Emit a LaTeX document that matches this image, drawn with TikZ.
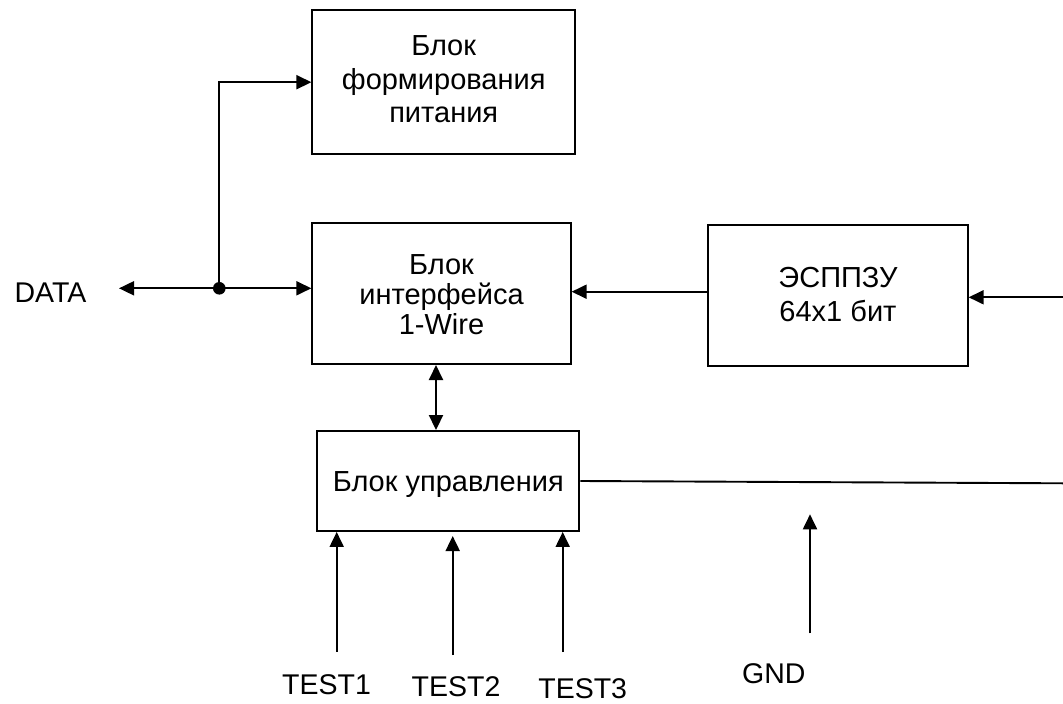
\documentclass[tikz,border=0pt]{standalone}
\usepackage{fontspec}
\setmainfont{Liberation Sans}
\usetikzlibrary{arrows.meta}
\begin{document}
\begin{tikzpicture}[x=1pt,y=-1pt,
  line width=1.9pt,
  >={Triangle[length=15pt,width=14pt]},
  blockbox/.style={draw, line width=1.9pt, inner sep=0pt, align=center},
  lbl/.style={anchor=base, inner sep=0pt, font=\fontsize{28.5}{33}\selectfont}
]
\useasboundingbox (0,0) rectangle (1063,704);

% blocks
\node[blockbox, minimum width=262.7pt, minimum height=144.3pt,
      text height=88pt, text depth=7pt,
      font=\fontsize{29}{33.5}\selectfont] (pwr) at (443.7,82.2)
      {Блок\\формирования\\питания};
\node[blockbox, minimum width=258.4pt, minimum height=140.7pt,
      text height=81pt, text depth=0pt,
      font=\fontsize{29}{30}\selectfont] (ifc) at (441.5,293.7)
      {Блок\\интерфейса\\1-Wire};
\node[blockbox, minimum width=259.4pt, minimum height=140.7pt,
      text height=55pt, text depth=3pt,
      font=\fontsize{29}{34}\selectfont] (rom) at (838,295.3)
      {ЭСППЗУ\\64x1 бит};
\node[blockbox, minimum width=262pt, minimum height=100pt,
      text height=21pt, text depth=0pt,
      font=\fontsize{29}{33}\selectfont] (ctl) at (448.3,481)
      {Блок управления};

% labels
\node[lbl] (data) at (50.5,302.3) {DATA};
\node[lbl] (test1) at (326.5,694) {TEST1};
\node[lbl] (test2) at (456,696) {TEST2};
\node[lbl] (test3) at (582.7,698) {TEST3};
\node[lbl] (gnd) at (773.8,683.3) {GND};

% coordinates
\coordinate (dend) at (119,288.3);
\coordinate (jn) at (219.3,288.3);
\coordinate (r1) at (708.3,291.7);
\coordinate (ein) at (1063,297.3);
\coordinate (c1) at (436,0);
\coordinate (cout) at (1063,483.3);
\coordinate (t1) at (336.7,651.7);
\coordinate (t2) at (452.7,655);
\coordinate (t2e) at (452.7,536);
\coordinate (t3) at (562.7,652);
\coordinate (g1) at (810,633.3);
\coordinate (g2) at (810,514.3);

% connectors
\draw[<->] (dend) -- (jn -| ifc.west);
\draw[->] (jn) |- (pwr.west);
\fill (jn) circle (6.3pt);
\draw[->] (r1 -| rom.west) -- (r1 -| ifc.east);
\draw[->] (ein) -- (ein -| rom.east);
\draw[<->] (c1 |- ifc.south) -- (c1 |- ctl.north);
\draw (ctl.east) -- (cout);
\draw[->] (t1) -- (t1 |- ctl.south);
\draw[->] (t2) -- (t2e);
\draw[->] (t3) -- (t3 |- ctl.south);
\draw[->] (g1) -- (g2);
\end{tikzpicture}
\end{document}
